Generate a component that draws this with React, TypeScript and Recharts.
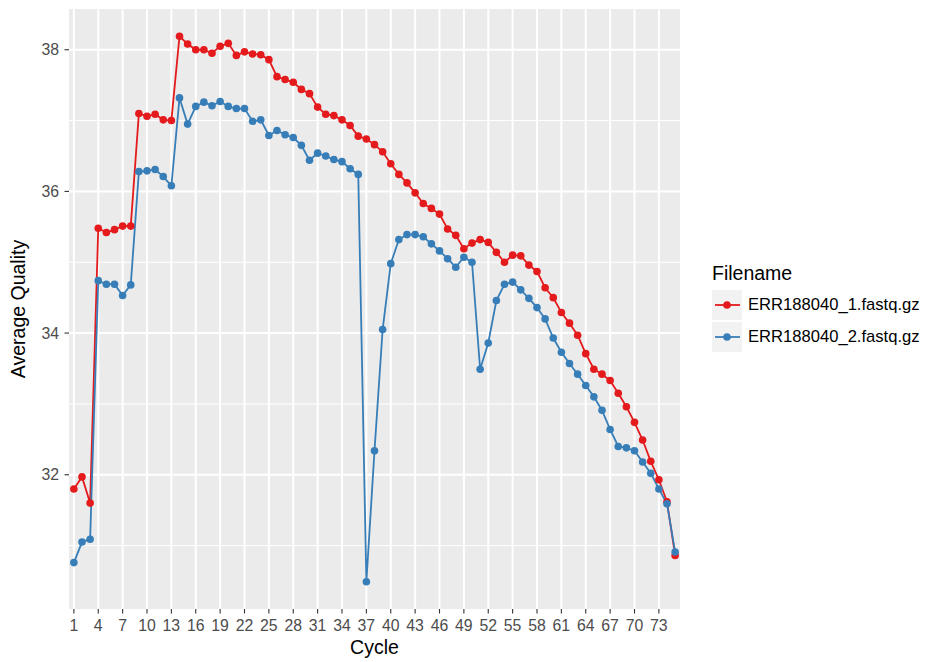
import React from "react";
import { CartesianGrid, Line, LineChart, XAxis, YAxis } from "recharts";

const cycles = Array.from({ length: 75 }, (_, i) => i + 1);

const file1Quality = [
  31.8, 31.97, 31.6, 35.48, 35.42, 35.46, 35.51, 35.51, 37.1, 37.06,
  37.09, 37.01, 37.0, 38.19, 38.08, 38.0, 38.0, 37.95, 38.05, 38.09,
  37.92, 37.97, 37.94, 37.93, 37.86, 37.62, 37.58, 37.54, 37.44, 37.38,
  37.19, 37.09, 37.07, 37.01, 36.93, 36.78, 36.74, 36.66, 36.56, 36.39,
  36.24, 36.12, 35.98, 35.83, 35.76, 35.68, 35.47, 35.38, 35.19, 35.27,
  35.32, 35.28, 35.14, 35.0, 35.1, 35.09, 34.96, 34.87, 34.64, 34.5,
  34.29, 34.14, 33.97, 33.71, 33.49, 33.42, 33.33, 33.15, 32.96, 32.74,
  32.49, 32.19, 31.93, 31.62, 30.86,
];

const file2Quality = [
  30.76, 31.05, 31.09, 34.74, 34.69, 34.69, 34.53, 34.68, 36.28, 36.29,
  36.31, 36.21, 36.08, 37.32, 36.95, 37.2, 37.26, 37.21, 37.27, 37.2,
  37.17, 37.17, 36.99, 37.01, 36.79, 36.86, 36.8, 36.76, 36.65, 36.44,
  36.54, 36.5, 36.45, 36.42, 36.32, 36.24, 30.49, 32.34, 34.05, 34.98,
  35.32, 35.39, 35.39, 35.36, 35.26, 35.16, 35.05, 34.93, 35.07, 35.0,
  33.49, 33.86, 34.46, 34.69, 34.72, 34.61, 34.49, 34.36, 34.2, 33.93,
  33.73, 33.57, 33.42, 33.26, 33.1, 32.91, 32.64, 32.4, 32.38, 32.34,
  32.18, 32.02, 31.8, 31.59, 30.91,
];

const xTicks = [1, 4, 7, 10, 13, 16, 19, 22, 25, 28, 31, 34, 37, 40, 43, 46, 49, 52, 55, 58, 61, 64, 67, 70, 73];
const yTicks = [32, 34, 36, 38];
const yMinor = [31, 33, 35, 37];

const series = [
  { key: "file1", name: "ERR188040_1.fastq.gz", color: "#E41A1C" },
  { key: "file2", name: "ERR188040_2.fastq.gz", color: "#377EB8" },
];

const data = cycles.map((cycle, i) => ({
  cycle,
  file1: file1Quality[i],
  file2: file2Quality[i],
}));

// ggplot-style 5% expansion on y, 0.6 units on discrete x
const all = [...file1Quality, ...file2Quality];
const yLo = Math.min(...all);
const yHi = Math.max(...all);
const yPad = (yHi - yLo) * 0.05;
const yDomain = [yLo - yPad, yHi + yPad];
const xDomain = [cycles[0] - 0.6, cycles[cycles.length - 1] + 0.6];

const FONT = '"Liberation Sans", Arial, Helvetica, sans-serif';

function YTitle(props: any) {
  const vb = props.viewBox || {};
  const cx = 18;
  const cy = (vb.y ?? 0) + (vb.height ?? 0) / 2;
  return (
    <text
      x={cx}
      y={cy}
      transform={`rotate(-90 ${cx} ${cy})`}
      textAnchor="middle"
      dominantBaseline="central"
      fontSize={19.5}
      fill="#000"
      fontFamily={FONT}
    >
      Average Quality
    </text>
  );
}

function XTitle(props: any) {
  const vb = props.viewBox || {};
  const cx = (vb.x ?? 0) + (vb.width ?? 0) / 2;
  return (
    <text x={cx} y={654} textAnchor="middle" fontSize={19.5} fill="#000" fontFamily={FONT}>
      Cycle
    </text>
  );
}

function LegendBox() {
  return (
    <div style={{ position: "absolute", left: 712, top: 259, fontFamily: FONT }}>
      <div style={{ fontSize: 19.5, color: "#000", height: 29.5, lineHeight: "28px" }}>Filename</div>
      {series.map((s) => (
        <div key={s.key} style={{ display: "flex", alignItems: "center", height: 32.5 }}>
          <svg width={30} height={30} style={{ display: "block" }}>
            <rect x={0} y={0} width={30} height={30} fill="#F2F2F2" />
            <line x1={3} y1={15} x2={28} y2={15} stroke={s.color} strokeWidth={1.8} />
            <circle cx={15} cy={15} r={3.8} fill={s.color} />
          </svg>
          <span style={{ marginLeft: 6, fontSize: 16.6, color: "#000" }}>{s.name}</span>
        </div>
      ))}
    </div>
  );
}

export default function App() {
  return (
    <div style={{ position: "absolute", left: 0, top: 0, width: 925, height: 662, background: "#fff" }}>
      <LineChart
        width={925}
        height={662}
        data={data}
        margin={{ top: 9, right: 245, bottom: 0, left: 0 }}
        style={{ fontFamily: FONT }}
      >
        <CartesianGrid
          vertical={false}
          horizontalValues={yMinor}
          stroke="#FFFFFF"
          strokeWidth={1}
          fill="#EBEBEB"
          fillOpacity={1}
        />
        <CartesianGrid stroke="#FFFFFF" strokeWidth={2} horizontalValues={yTicks} verticalValues={xTicks} />
        <XAxis
          dataKey="cycle"
          type="number"
          domain={xDomain}
          ticks={xTicks}
          interval={0}
          allowDataOverflow
          height={53}
          axisLine={false}
          tickSize={4.5}
          tickMargin={6.5}
          tickLine={{ stroke: "#333333", strokeWidth: 1.1 }}
          tick={{ fill: "#4D4D4D", fontSize: 15.8 }}
          label={<XTitle />}
        />
        <YAxis
          type="number"
          domain={yDomain}
          ticks={yTicks}
          allowDataOverflow
          width={69}
          axisLine={false}
          tickSize={4.5}
          tickMargin={5.5}
          tickLine={{ stroke: "#333333", strokeWidth: 1.1 }}
          tick={{ fill: "#4D4D4D", fontSize: 15.8 }}
          label={<YTitle />}
        />
        {series.map((s) => (
          <Line
            key={s.key}
            dataKey={s.key}
            name={s.name}
            type="linear"
            stroke={s.color}
            strokeWidth={1.8}
            dot={{ r: 3.8, fill: s.color, stroke: "none" }}
            activeDot={false}
            isAnimationActive={false}
          />
        ))}
      </LineChart>
      <LegendBox />
    </div>
  );
}
